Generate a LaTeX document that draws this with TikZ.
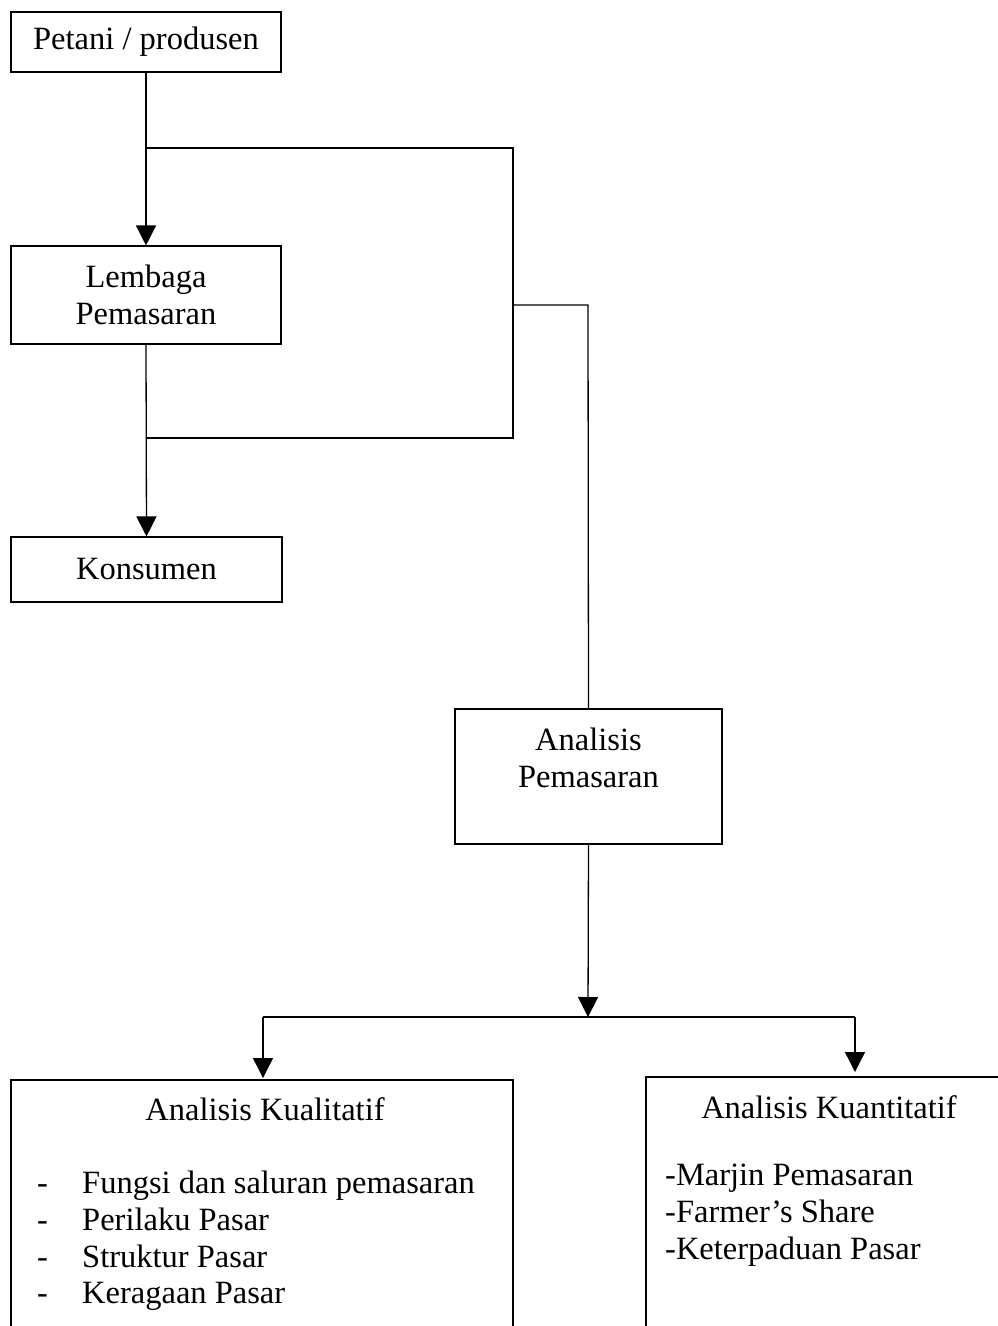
\documentclass[tikz,border=0pt]{standalone}
\usepackage{fontspec}
\setmainfont{Liberation Serif}
\usetikzlibrary{arrows.meta}
\begin{document}
\begin{tikzpicture}[x=1pt,y=-1pt,
  every node/.style={font=\fontsize{32.5}{36.5}\selectfont, inner sep=0pt},
  box/.style={draw, line width=1.1pt},
  ln/.style={line width=1.3pt},
  arr/.style={ln, -{Triangle[width=20pt,length=20pt]}}]
\useasboundingbox (0,0) rectangle (998,1326);
% boxes
\node[box, minimum width=270pt, minimum height=60pt] (petani) at (146,42) {Petani / produsen};
\node[box, minimum width=270pt, minimum height=98pt, align=center] (lembaga) at (146,295) {Lembaga\\Pemasaran};
\node[box, minimum width=271pt, minimum height=65pt] (konsumen) at (146.5,569.5) {Konsumen};
\node[box, minimum width=267pt, minimum height=135pt] (analisis) at (588.5,776.5) {};
\node[align=center] (analisistext) at (588.5,758) {Analisis\\Pemasaran};
% connector coordinates
\coordinate (j1) at (146,148);
\coordinate (r1) at (513,148);
\coordinate (rm) at (513,305);
\coordinate (r2) at (513,438);
\coordinate (j2) at (146,438);
\coordinate (rr) at (588,305);
\coordinate (split) at (588,1017);
\coordinate (sl) at (263,1017);
\coordinate (sr) at (855,1017);
\coordinate (kualtop) at (263,1078);
\coordinate (kuantop) at (855,1072);
% connectors
\draw[arr] (petani.south) -- (lembaga.north);
\draw[ln] (j1) -- (r1) -- (r2) -- (j2);
\draw[arr] (lembaga.south) -- (konsumen.north);
\draw[ln] (rm) -- (rr) -- (analisis.north);
\draw[arr] (analisis.south) -- (split);
\draw[ln] (sl) -- (sr);
\draw[arr] (sl) -- (kualtop);
\draw[arr] (sr) -- (kuantop);
% bottom boxes (cut off by the page)
\draw[box] (11,1330) -- (11,1080) -- (513,1080) -- (513,1330);
\draw[box] (646,1330) -- (646,1077) -- (1002,1077);
\node (kualtitle) at (265,1109) {Analisis Kualitatif};
\node (kuantitle) at (829,1107) {Analisis Kuantitatif};
\foreach \t [count=\i] in {Fungsi dan saluran pemasaran, Perilaku Pasar, Struktur Pasar, Keragaan Pasar}{
  \node[anchor=base west] (kd\i) at (37,1157+36.7*\i) {-};
  \node[anchor=base west] (kt\i) at (82,1157+36.7*\i) {\t};
}
\node[anchor=base west] (kn1) at (665,1185) {-Marjin Pemasaran};
\node[anchor=base west] (kn2) at (665,1222) {-Farmer’s Share};
\node[anchor=base west] (kn3) at (665,1259) {-Keterpaduan Pasar};
\end{tikzpicture}
\end{document}
